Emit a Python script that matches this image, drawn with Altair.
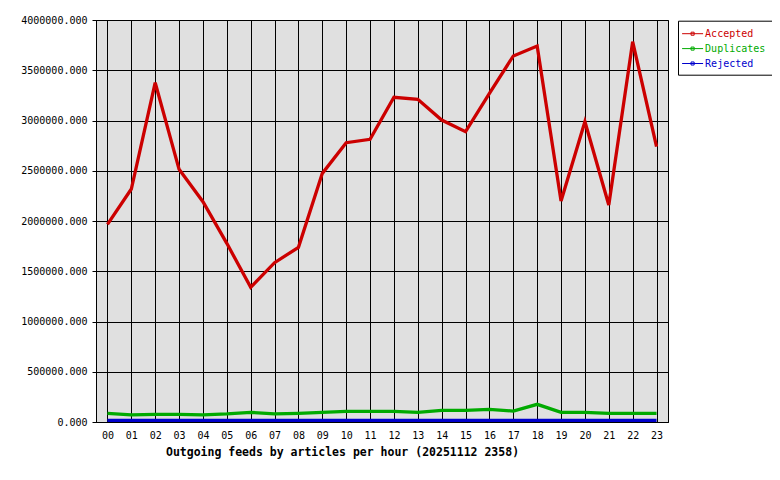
import altair as alt
import pandas as pd

hours = [f"{h:02d}" for h in range(24)]
accepted = [1967000, 2318000, 3376000, 2514000, 2192000, 1778000, 1340000, 1585000,
            1738000, 2474000, 2779000, 2813000, 3231000, 3211000, 3005000, 2889000,
            3270000, 3642000, 3741000, 2200000, 2988000, 2160000, 3784000, 2739000]
duplicates = [86000, 70000, 76000, 76000, 70000, 80000, 96000, 80000,
              86000, 96000, 106000, 106000, 106000, 96000, 116000, 116000,
              126000, 109000, 176000, 96000, 96000, 86000, 86000, 86000]
rejected = [15000] * 24

series = ["Accepted", "Duplicates", "Rejected"]
colors = ["#cc0000", "#00aa00", "#0000cc"]
y_ticks = [0, 500000, 1000000, 1500000, 2000000, 2500000, 3000000, 3500000, 4000000]

rows = []
for name, vals in zip(series, [accepted, duplicates, rejected]):
    for h, v in zip(hours, vals):
        rows.append({"hour": h, "series": name, "value": v})
df = pd.DataFrame(rows)

FONT = "DejaVu Sans Mono"
label_expr = ("datum.label == 'Accepted' ? '#cc0000' : "
              "datum.label == 'Duplicates' ? '#00aa00' : '#0000cc'")

chart = alt.Chart(df).mark_line(strokeWidth=3.3, clip=True).encode(
    x=alt.X("hour:O", sort=hours,
            scale=alt.Scale(type="point", padding=0.48),
            axis=alt.Axis(title="Outgoing feeds by articles per hour (20251112 2358)",
                          labelAngle=0, labelFont=FONT, labelFontSize=10,
                          labelColor="black", labelPadding=8, tickSize=0,
                          grid=True, gridColor="black", gridWidth=1, gridOpacity=1,
                          domainColor="black", titleFont=FONT, titleFontSize=11.5,
                          titleFontWeight="bold", titleColor="black", titlePadding=6.5,
                          titleX=246, titleAlign="center", titleAnchor="start")),
    y=alt.Y("value:Q", scale=alt.Scale(domain=[0, 4000000], nice=False),
            axis=alt.Axis(title=None, values=y_ticks, format=".3f",
                          labelFont=FONT, labelFontSize=10, labelColor="black",
                          labelPadding=5, tickSize=4, tickColor="black",
                          grid=True, gridColor="black", gridWidth=1, gridOpacity=1,
                          domainColor="black")),
    color=alt.Color("series:N", sort=series,
                    scale=alt.Scale(domain=series, range=colors),
                    legend=alt.Legend(title=None, orient="none", legendX=582, legendY=0.7,
                                      fillColor="white", strokeColor="black",
                                      padding=6, cornerRadius=0,
                                      labelFont=FONT, labelFontSize=10,
                                      labelColor=alt.ExprRef(expr=label_expr),
                                      labelOffset=5.5, symbolOffset=1.6,
                                      symbolType="M-1.72,0H1.72M-0.25,-0.25H0.25V0.25H-0.25Z",
                                      symbolSize=149, symbolStrokeWidth=1,
                                      rowPadding=2.9)),
).properties(
    width=572, height=402,
    autosize=alt.AutoSizeParams(type="none"),
    padding={"left": 88, "top": 12, "right": 104, "bottom": 40},
    background="white",
).configure_view(
    fill="#e0e0e0", stroke="black", strokeWidth=1
)

chart.save("out.html", embed_options={"renderer": "svg", "actions": False})
